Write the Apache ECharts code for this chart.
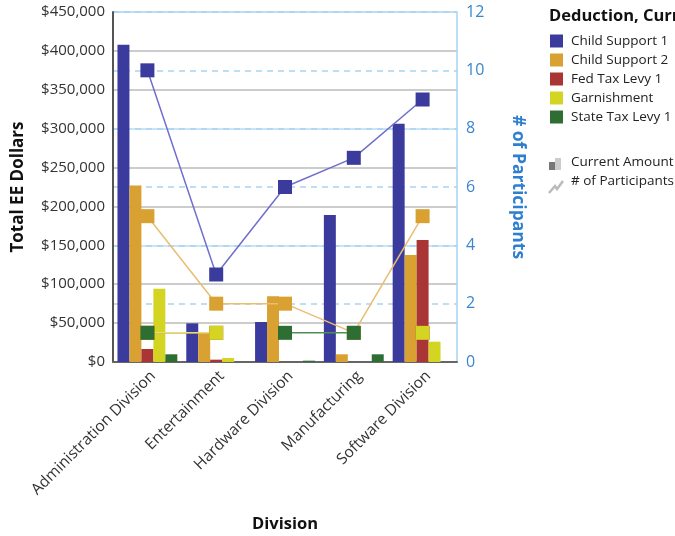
<!DOCTYPE html>
<html><head><meta charset="utf-8">
<script src="https://cdn.jsdelivr.net/npm/echarts@6/dist/echarts.min.js"></script>
<style>html,body{margin:0;padding:0;background:#fff}#c{width:675px;height:536px}</style>
</head><body><div id="c"></div>
<script>
const categories = ['Administration Division','Entertainment','Hardware Division','Manufacturing','Software Division'];
const seriesNames = ['Child Support 1','Child Support 2','Fed Tax Levy 1','Garnishment','State Tax Levy 1'];
// Current Amount (bars)
const amtChildSupport1 = [408000, 49700, 51400, 189000, 306400];
const amtChildSupport2 = [227000, 36900, 84400, 9900, 137600];
const amtFedTaxLevy1   = [16700, 3000, null, null, 156900];
const amtGarnishment   = [94300, 5100, null, null, 26100];
const amtStateTaxLevy1 = [9900, null, 1700, 9900, null];
// # of Participants (lines)
const cntChildSupport1 = [10, 3, 6, 7, 9];
const cntChildSupport2 = [5, 2, 2, 1, 5];
const cntFedTaxLevy1   = [1, 1, null, null, 1];
const cntGarnishment   = [1, 1, null, null, 1];
const cntStateTaxLevy1 = [1, null, 1, 1, null];
const leftTicks = [0, 50000, 100000, 150000, 200000, 250000, 300000, 350000, 400000, 450000];
const rightTicks = [0, 2, 4, 6, 8, 10, 12];

const barColors = ['#3b3b9e','#d9a032','#a93535','#d4d422','#2e6e33'];
const lineColors = ['#6f6fcc','#e9bd72','#c96b6b','#e2e26a','#4f8f55'];
const amts = [amtChildSupport1, amtChildSupport2, amtFedTaxLevy1, amtGarnishment, amtStateTaxLevy1];
const cnts = [cntChildSupport1, cntChildSupport2, cntFedTaxLevy1, cntGarnishment, cntStateTaxLevy1];
const FONT = 'Open Sans';

const series = [];
amts.forEach((d, i) => series.push({
  name: seriesNames[i], type: 'bar', yAxisIndex: 0, data: d,
  barGap: '0%', barCategoryGap: '13%',
  itemStyle: { color: barColors[i] }, z: 2
}));
[2,0,1,3,4].forEach(i => series.push({
  name: seriesNames[i], type: 'line', yAxisIndex: 1, data: cnts[i],
  symbol: 'rect', symbolSize: 14, connectNulls: false,
  lineStyle: { color: lineColors[i], width: 1.5 },
  itemStyle: { color: barColors[i] }, z: 5
}));

const chart = echarts.init(document.getElementById('c'), null, { renderer: 'canvas' });
chart.setOption({
  animation: false,
  textStyle: { fontFamily: FONT },
  grid: { left: 113, right: 218, top: 12, bottom: 174, containLabel: false, outerBoundsMode: 'none' },
  legend: {
    orient: 'vertical', left: 550, top: 34, padding: 0, itemWidth: 13, itemHeight: 13, itemGap: 5,
    icon: 'rect', data: seriesNames,
    textStyle: { fontFamily: FONT, fontSize: 13.5, color: '#222', padding: [0, 0, 0, 3] }
  },
  xAxis: {
    type: 'category', data: categories,
    name: 'Division', nameLocation: 'middle', nameGap: 154,
    nameTextStyle: { fontFamily: FONT, fontWeight: 'bold', fontSize: 16.5, color: '#111' },
    axisLine: { lineStyle: { color: '#666', width: 2 } },
    axisTick: { show: false },
    axisLabel: { rotate: 45, fontSize: 15.5, color: '#333', margin: 6, interval: 0, verticalAlign: 'top' }
  },
  yAxis: [{
    type: 'value', min: 0, max: 450000, interval: 50000, position: 'left',
    name: 'Total EE Dollars', nameLocation: 'middle', nameGap: 86, nameRotate: 90,
    nameTextStyle: { fontFamily: FONT, fontWeight: 'bold', fontSize: 17, color: '#111' },
    axisLine: { show: true, lineStyle: { color: '#555', width: 2 } },
    axisTick: { show: false },
    axisLabel: { fontSize: 15, color: '#333', margin: 8,
      formatter: v => leftTicks.includes(v) ? '$' + v.toLocaleString('en-US') : '' },
    splitLine: { show: true, lineStyle: { color: ['#bbbbbb','#bbbbbb','#bbbbbb','#b8dcf4','#bbbbbb','#bbbbbb','#b8dcf4','#bbbbbb','#bbbbbb','#a9d3f2'], width: 1.5 } }
  }, {
    type: 'value', min: 0, max: 12, interval: 2, position: 'right',
    name: '# of Participants', nameLocation: 'middle', nameGap: 52, nameRotate: -90,
    nameTextStyle: { fontFamily: FONT, fontWeight: 'bold', fontSize: 17.5, color: '#2f7fd0', padding: [0, 0, 0, 0] },
    axisLine: { show: true, lineStyle: { color: '#a9d3f2', width: 1.5 } },
    axisTick: { show: false },
    axisLabel: { fontSize: 16, color: '#3a86d0', margin: 9,
      formatter: v => rightTicks.includes(v) ? String(v) : '' },
    splitLine: { show: true, lineStyle: { color: '#a9d3f2', type: [6, 5], width: 1.5 } }
  }],
  series: series,
  graphic: [
    { type: 'text', left: 549, top: 8, style: { text: 'Deduction, Current Amount', font: 'bold 16.5px "Open Sans"', fill: '#111' } },
    { type: 'rect', shape: { x: 549, y: 162, width: 6, height: 8 }, style: { fill: '#777' } },
    { type: 'rect', shape: { x: 555, y: 158, width: 6, height: 12 }, style: { fill: '#ccc' } },
    { type: 'polyline', shape: { points: [[549, 193], [555, 186], [557, 189], [563, 181]] }, style: { stroke: '#bbb', lineWidth: 2.5, fill: null } },
    { type: 'text', left: 571, top: 155, style: { text: 'Current Amount', font: '13.5px "Open Sans"', fill: '#222' } },
    { type: 'text', left: 571, top: 174, style: { text: '# of Participants', font: '13.5px "Open Sans"', fill: '#222' } }
  ]
});
</script></body></html>
